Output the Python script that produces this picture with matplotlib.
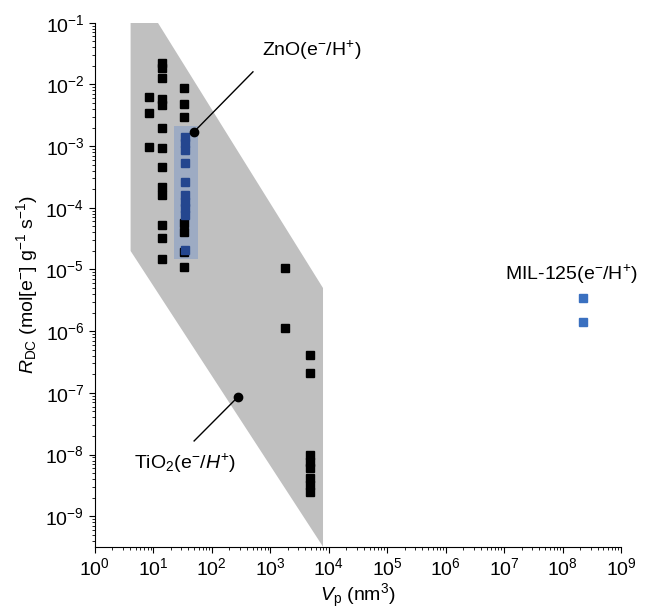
import matplotlib
matplotlib.use('Agg')
import matplotlib.pyplot as plt
from matplotlib.patches import Polygon, Rectangle

plt.rcParams['font.family'] = ['Liberation Sans', 'DejaVu Sans']
plt.rcParams['mathtext.fontset'] = 'custom'
plt.rcParams['mathtext.rm'] = 'Liberation Sans'
plt.rcParams['mathtext.it'] = 'Liberation Sans:italic'
plt.rcParams['mathtext.bf'] = 'Liberation Sans:bold'

# black squares (literature points)
black_x = [8.4, 8.4, 8.4,
           14, 14, 14, 14, 14, 14, 14, 14, 14, 14, 14, 14, 14,
           33, 33, 33, 33, 33, 33, 33,
           1800, 1800,
           4800, 4800, 4800, 4800, 4800, 4800, 4800, 4800]
black_y = [6.3e-3, 3.4e-3, 9.6e-4,
           2.24e-2, 1.85e-2, 1.28e-2, 5.8e-3, 4.6e-3, 2.0e-3, 9.3e-4, 4.6e-4, 2.2e-4, 1.6e-4, 5.2e-5, 3.3e-5, 1.46e-5,
           8.8e-3, 4.8e-3, 3.0e-3, 5.6e-5, 4.0e-5, 1.9e-5, 1.08e-5,
           1.04e-5, 1.14e-6,
           4.1e-7, 2.1e-7, 9.8e-9, 7.6e-9, 6.0e-9, 4.1e-9, 3.2e-9, 2.5e-9]

# ZnO points (blue, inside the highlighted box)
zno_x = [35] * 10
zno_y = [1.4e-3, 1.12e-3, 8.6e-4, 5.3e-4, 2.6e-4, 1.6e-4, 1.23e-4, 9.8e-5, 7.6e-5, 2.1e-5]

# MIL-125 points
mil_x = [2.2e8, 2.2e8]
mil_y = [3.4e-6, 1.4e-6]

# shaded region corners
region_x = [4.1, 12, 8000, 8000, 4.1]
region_y = [0.1, 0.1, 5e-6, 3.2e-10, 2e-5]

# ZnO box
box_x = [22.5, 58]
box_y = [1.5e-5, 2.1e-3]

fig = plt.figure(figsize=(6.49, 6.15), dpi=100)
ax = fig.add_axes([0.146, 0.111, 0.811, 0.852])
ax.set_xscale('log')
ax.set_yscale('log')
ax.set_xlim(1, 1e9)
ax.set_ylim(3.2e-10, 1e-1)

ax.add_patch(Polygon(list(zip(region_x, region_y)), closed=True,
                     facecolor='#c0c0c0', edgecolor='none', zorder=1))
ax.add_patch(Rectangle((box_x[0], box_y[0]), box_x[1] - box_x[0], box_y[1] - box_y[0],
                       facecolor='#4f7dcd', alpha=0.3, edgecolor='none', zorder=2))

ax.plot(black_x, black_y, 's', color='black', markersize=5.2, linestyle='none', zorder=3)
ax.plot(zno_x, zno_y, 's', color='#24468f', markersize=5.2, linestyle='none', zorder=4)
ax.plot(mil_x, mil_y, 's', color='#3a70c0', markersize=5.2, linestyle='none', zorder=4)

# annotations
ax.plot([49.6, 507], [1.7e-3, 0.016], color='black', lw=1, zorder=5)
ax.plot([49.6], [1.7e-3], 'o', color='black', markersize=6, zorder=5)
ax.text(730, 0.036, 'ZnO(e$^{-}$/H$^{+}$)', fontsize=14, va='center', ha='left')

ax.plot([281, 50], [8.6e-8, 1.66e-8], color='black', lw=1, zorder=5)
ax.plot([281], [8.6e-8], 'o', color='black', markersize=6, zorder=5)
ax.text(35, 7.2e-9, 'TiO$_2$(e$^{-}$/$H^{+}$)', fontsize=14, va='center', ha='center')

ax.text(1.4e8, 8.3e-6, 'MIL-125(e$^{-}$/H$^{+}$)', fontsize=14, va='center', ha='center')

ax.spines['top'].set_visible(False)
ax.spines['right'].set_visible(False)
ax.tick_params(which='major', direction='out', length=4, width=0.8, labelsize=14)
ax.tick_params(which='minor', direction='out', length=2.5, width=0.6)

ax.set_xlabel('$V_{\\mathrm{p}}$ (nm$^3$)', fontsize=14, labelpad=2)
ax.set_ylabel('$R_{\\mathrm{DC}}$ (mol[e$^{-}$] g$^{-1}$ s$^{-1}$)', fontsize=14, labelpad=4)

fig.savefig('out.png', dpi=100)
